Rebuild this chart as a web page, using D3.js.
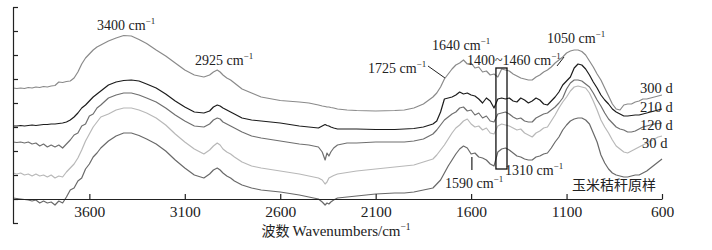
<!DOCTYPE html>
<html><head><meta charset="utf-8">
<script src="https://cdn.jsdelivr.net/npm/d3@7"></script>
<style>
html,body{margin:0;padding:0;background:#fff;}
svg{display:block;}
text{font-family:"Liberation Serif","Times New Roman","Noto Sans CJK SC",serif;fill:#222;}
</style></head>
<body><svg id="c" width="712" height="250"></svg>
<script>
// Wavenumber grid (cm^-1)
const wavenumbers = [4000,3980,3960,3940,3920,3900,3880,3860,3840,3820,3800,3780,3760,3740,3720,3700,3680,3660,3640,3620,3600,3580,3560,3540,
3500,3460,3420,3380,3340,3300,3250,3200,3150,3100,3050,3000,2970,2950,2930,2915,2900,2880,2860,2840,2800,2750,2700,2600,2500,2450,2400,2380,2365,2355,2345,2335,2320,2300,2250,2200,2100,2000,1950,1900,1850,1800,1780,1760,1740,1720,
1700,1680,1660,1640,1620,1600,1580,1560,1540,1520,1500,1480,1460,1440,1420,1400,1380,1360,1340,1320,1300,1280,1260,
1240,1220,1200,1180,1160,1140,1120,1100,1080,1060,1040,1020,1000,980,960,940,920,900,880,860,840,820,800,780,760,740,720,700,680,660,640,620,600];

// Offset spectra (arbitrary units)
const s300 = [135,134.5,135,134.5,135.5,135,136,135.5,136.5,136,137,137.5,141,140.5,141.5,142,145,151,159,165,169,173,176,178,
182,185,187.5,187,183.5,179.5,173,167,160,153,148,146,148,151,153,151,148,145,143,140,134,130,126,122.5,121,120,118,117,116.5,116,116,115.5,115,114,113,112.5,112,112.5,113,115,119,126,130,136,144,149,
154,158,160,163,159,160,155,156,151,152,148,149,146,154,153,152,149,147,145,144,143,143,146,
148,151,153,156,160,163,166,170,172,173,173,171.5,168,162,156,149,143,135,127,119,114,113,118,119,119,121,122,124,124,125,126,127,128];

const s210 = [97,97,97.5,97,97.5,98,97.5,98,98.5,98.5,99,99,99.5,100,101,103,106,110,115,118,122,126,129,132,
138,141,142.5,143,142,139,135,129,122,116,111,110,112,116,118,117,115,113,111,109,105,103,102,100,97,96,95,97,98.5,97.5,97,96,95,94,94,94,93.5,93.5,94,94.5,96,99,102,111,124,125,
126,128,131,129,130,128,127,124,120,125,122,115,124,125,124,125,122,121,125,123,120,122,125,
123,119,118,122,126,131,138,142,146,155,159,158,154,148,141,135,128,123,119,114,111,109,107,107,107.5,108,108,109,110,111,112,113,114];

const s120 = [81,80.5,81,80,81,79,80,77,79,76,78,76,78,75,79,83,88,90,97,99,107,109,115,118,
125,128,130,130,128,125,121,115,108,102,97,96,99,103,105,104,101,99,97,95,91,87,85,82,79,78,76,71,63,70,67,71,75,78,80,80,81,81,81,82,84,89,93,98,103,106,
109,111,115,116,112,113,108,110,105,107,102,101,109,110,111,109,106,104,105,102,101,101,105,
107,109,110,113,116,120,125,134,140,143,143,142,139,136,130,123,117,110,104,100,96,94,93,91,91,92,94,96,97,98,99,99.5,100];

const s30 = [50,49,50,48,49,47,49,47,48,46,48,45,47,46,51,55,59,65,73,82,89,96,101,106,
109,113,115,115,113,110,105,98,89,81,74,69,73,77,80,78,74,71,69,66,61,57,55,52,49,47,45,43,39,41,45,46,47.5,49,50.5,52,54,56,57,58,61,64,68,73,78,84,
90,95,98,102,104,99,96,97,93,95,90,89,97,99,98,97,95,93,94,90,88,86,90,
92,95,96,102,108,115,121,126,132,136,137,136,135,130,122,113,103,96,90,83,77,74,71,70,72,74,76,78,80,82,84,86,87];

const sRaw = [25,24.5,24,23.5,23,22,23,20,22,20,21,18,22,20,26,33,35,42,45,54,59,66,70,75,
82,87,90,90,87.5,84,79,72,63,55,48,45,49,53,55,53,50,47,45,42,38,35,33,31,28,26,24,21,18,20,19,21,23,25,26,27,29,30,30,31,33,35,39,43,50,57,
63,69,74,77,75,69,70,66,65,63,59,57,71,74,75,73,70,67,66,64,63,63,66,
67,69,70,75,81,86,93,98,102,104,105,105,103,99,90,81,68,60,54,50,48,47,46,46,47,48,48,50,52,55,58,61,64];

const seriesNames = ["300 d","210 d","120 d","30 d","玉米秸秆原样"];
const xTicks = [3600,3100,2600,2100,1600,1100,600];
const yTicks = [0,24,48,72,96,120,144,168,192,216];

const svg = d3.select("#c");
const x = d3.scaleLinear().domain([4000,600]).range([13,662]);
const y = d3.scaleLinear().domain([0,216]).range([223,7]);

const series = [
  {name:seriesNames[0], vals:s300, color:"#8a8a8a"},
  {name:seriesNames[1], vals:s210, color:"#1c1c1c"},
  {name:seriesNames[2], vals:s120, color:"#6f6f6f"},
  {name:seriesNames[3], vals:s30,  color:"#b8b8b8"},
  {name:seriesNames[4], vals:sRaw, color:"#696969"}
];

const line = d3.line().x((d,i)=>x(wavenumbers[i])).y(d=>y(d));
svg.append("g").selectAll("path").data(series).join("path")
  .attr("fill","none").attr("stroke",d=>d.color).attr("stroke-width",1.2)
  .attr("stroke-linejoin","round")
  .attr("d",d=>line(d.vals));

// axes
const xAxis = d3.axisBottom(x).tickValues(xTicks).tickSize(-5).tickSizeOuter(0).tickFormat(d3.format("d"));
const gx = svg.append("g").attr("transform",`translate(0,${y(24)})`).call(xAxis);
gx.selectAll("text").attr("y",18).attr("dy",0).style("font-size","15.5px")
  .style("font-family",'"Liberation Serif",serif').attr("fill","#222");
const yAxis = d3.axisLeft(y).tickValues(yTicks).tickSize(-5).tickSizeOuter(0).tickFormat("");
const gy = svg.append("g").attr("transform",`translate(${x(4000)},0)`).call(yAxis);
svg.selectAll(".domain, .tick line").attr("stroke","#222").attr("stroke-width",1.2);

// axis title
const t = svg.append("text").attr("x",336).attr("y",236).attr("text-anchor","middle").style("font-size","15px");
t.append("tspan").text("波数 ").style("font-family",'"Noto Sans CJK SC",sans-serif').style("font-size","14px");
t.append("tspan").text("Wavenumbers/cm");
t.append("tspan").text("−1").attr("dy",-6).style("font-size","9.5px");

// annotations
function cmLabel(txt,px,py){
  const e = svg.append("text").attr("x",px).attr("y",py).style("font-size","14px");
  e.append("tspan").text(txt+" cm");
  e.append("tspan").text("−1").attr("dy",-6).style("font-size","9px");
}
cmLabel("3400",97,30);
cmLabel("2925",195,65);
cmLabel("1725",368,73);
cmLabel("1640",432,50);
cmLabel("1400~1460",467,65);
cmLabel("1050",547,43);
cmLabel("1590",445,188);
cmLabel("1310",505,175);

// series labels
const labelY = [93,112,130,148];
seriesNames.slice(0,4).forEach((n,i)=>{
  svg.append("text").attr("x",i===3?642:640).attr("y",labelY[i]).style("font-size","14.5px").text(n);
});
svg.append("text").attr("x",572).attr("y",190).style("font-size","14px")
  .style("font-family",'"Noto Sans CJK SC",sans-serif').text(seriesNames[4]);

// leader lines and box
svg.append("line").attr("x1",x(1826)).attr("y1",y(157)).attr("x2",x(1737)).attr("y2",y(145))
  .attr("stroke","#222").attr("stroke-width",1);
svg.append("line").attr("x1",x(1596)).attr("y1",y(66)).attr("x2",x(1596)).attr("y2",y(53))
  .attr("stroke","#222").attr("stroke-width",1.2);
svg.append("line").attr("x1",557).attr("y1",66).attr("x2",564).attr("y2",57)
  .attr("stroke","#222").attr("stroke-width",1);
svg.append("rect").attr("x",x(1470)).attr("y",y(155)).attr("width",x(1412)-x(1470)).attr("height",y(54)-y(155))
  .attr("fill","none").attr("stroke","#111").attr("stroke-width",1.3);
</script></body></html>
